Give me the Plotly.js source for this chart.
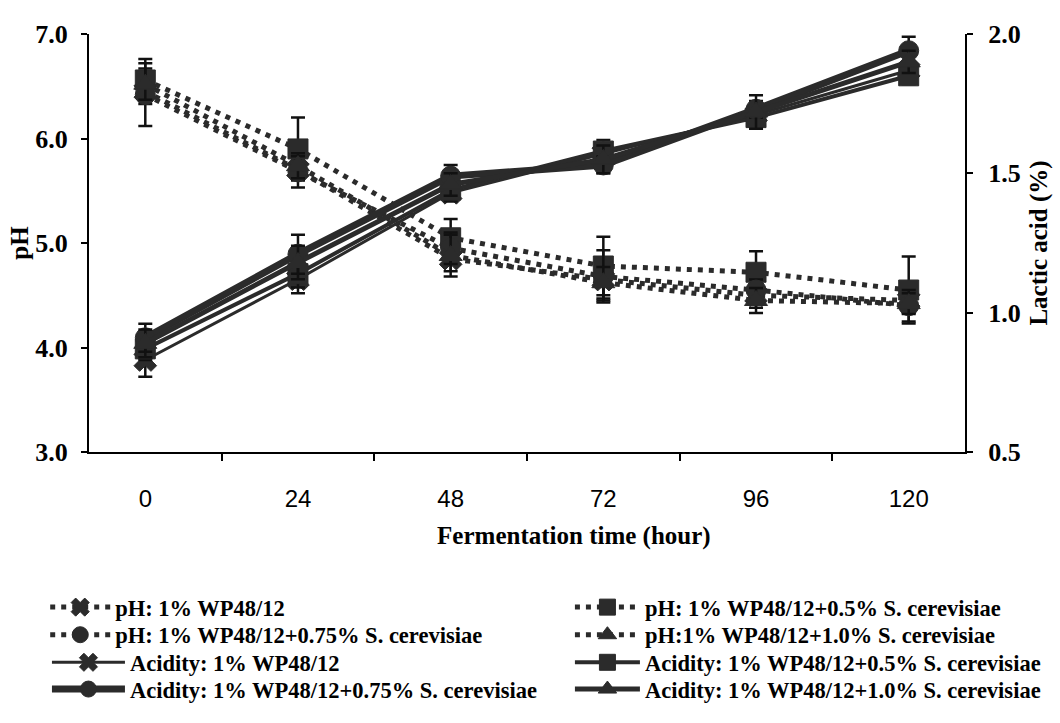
<!DOCTYPE html>
<html>
<head>
<meta charset="utf-8">
<script src="https://cdn.plot.ly/plotly-3.0.1.min.js"></script>
<style>html,body{margin:0;padding:0;background:#fff;}#chart{width:1060px;height:723px;}</style>
</head>
<body>
<div id="chart"></div>
<script>
// Categories (fermentation time, hour)
const hours = ["0", "24", "48", "72", "96", "120"];

// pH series (left axis)
const ph_wp = [6.45, 5.70, 4.85, 4.65, 4.50, 4.45];
const ph_wp_05 = [6.56, 5.90, 5.05, 4.78, 4.72, 4.55];
const ph_wp_075 = [6.42, 5.68, 4.95, 4.68, 4.55, 4.40];
const ph_wp_10 = [6.52, 5.74, 4.88, 4.62, 4.45, 4.42];
const ph_wp_err = [0.12, 0.10, 0.12, 0.20, 0.12, 0.12];
const ph_wp_05_err = [0.20, 0.30, 0.18, 0.28, 0.20, 0.32];
const ph_wp_075_err = [0.30, 0.15, 0.15, 0.25, 0.10, 0.15];
const ph_wp_10_err = [0.15, 0.12, 0.20, 0.15, 0.12, 0.10];

// Acidity series, lactic acid % (right axis)
const ac_wp = [0.83, 1.12, 1.43, 1.57, 1.71, 1.87];
const ac_wp_05 = [0.87, 1.14, 1.44, 1.58, 1.70, 1.85];
const ac_wp_075 = [0.91, 1.21, 1.49, 1.53, 1.73, 1.94];
const ac_wp_10 = [0.89, 1.18, 1.46, 1.55, 1.72, 1.90];
const ac_wp_err = [0.06, 0.05, 0.03, 0.03, 0.03, 0.03];
const ac_wp_05_err = [0.04, 0.05, 0.04, 0.04, 0.04, 0.03];
const ac_wp_075_err = [0.05, 0.07, 0.04, 0.03, 0.03, 0.05];
const ac_wp_10_err = [0.05, 0.06, 0.04, 0.05, 0.06, 0.04];

const names = [
  "pH: 1% WP48/12",
  "pH: 1% WP48/12+0.5% S. cerevisiae",
  "pH: 1% WP48/12+0.75% S. cerevisiae",
  "pH:1% WP48/12+1.0% S. cerevisiae",
  "Acidity: 1% WP48/12",
  "Acidity: 1% WP48/12+0.5% S. cerevisiae",
  "Acidity: 1% WP48/12+0.75% S. cerevisiae",
  "Acidity: 1% WP48/12+1.0% S. cerevisiae"
];

const ink = "#2b2b2b";
function phTrace(name, y, err, sym, leg) {
  return {
    type: "scatter", mode: "lines+markers", name: name, legend: leg,
    x: hours, y: y, yaxis: "y",
    line: {color: ink, width: 5, dash: "5px,6px"},
    marker: {symbol: sym, size: 20, color: ink, line: {color: ink, width: 1}},
    error_y: {type: "data", array: err, visible: true, color: "#111", thickness: 2.5, width: 7}
  };
}
function acTrace(name, y, err, sym, w, leg) {
  return {
    type: "scatter", mode: "lines+markers", name: name, legend: leg,
    x: hours, y: y, yaxis: "y2",
    line: {color: ink, width: w},
    marker: {symbol: sym, size: 20, color: ink, line: {color: ink, width: 1}},
    error_y: {type: "data", array: err, visible: true, color: "#111", thickness: 2.5, width: 7}
  };
}

const data = [
  phTrace(names[0], ph_wp, ph_wp_err, "x", "legend"),
  phTrace(names[1], ph_wp_05, ph_wp_05_err, "square", "legend2"),
  phTrace(names[2], ph_wp_075, ph_wp_075_err, "circle", "legend3"),
  phTrace(names[3], ph_wp_10, ph_wp_10_err, "triangle-up", "legend4"),
  acTrace(names[4], ac_wp, ac_wp_err, "x", 3, "legend5"),
  acTrace(names[5], ac_wp_05, ac_wp_05_err, "square", 4, "legend6"),
  acTrace(names[6], ac_wp_075, ac_wp_075_err, "circle", 7, "legend7"),
  acTrace(names[7], ac_wp_10, ac_wp_10_err, "triangle-up", 5, "legend8")
];

const serif = "Liberation Serif, Times New Roman, serif";
const tickBold = {family: serif, size: 26, color: "#000", weight: 700};
const titleBold = {family: serif, size: 25, color: "#000", weight: 700};
const legFont = {family: serif, size: 22.5, color: "#000", weight: 700};

function leg(x, y, iw) {
  return {
    orientation: "v", x: x, xanchor: "left", y: y, yanchor: "middle",
    itemwidth: iw, font: legFont, bgcolor: "rgba(0,0,0,0)", borderwidth: 0,
    tracegroupgap: 0
  };
}
// paper coords: plot area x 89..965 (876 px), y 34..456 (422 px)
const colL_ph = -0.050, colL_ac = -0.048, colR = 0.549;
const rows = [-0.372, -0.438, -0.504, -0.568];

// the x title sits right of the axis centre in the reference; pad its left side
const xTitle = "\u200B" + "\u00A0".repeat(15) + "Fermentation time (hour)";

const layout = {
  width: 1060, height: 723,
  paper_bgcolor: "#fff", plot_bgcolor: "rgba(0,0,0,0)",
  margin: {l: 89, r: 95, t: 34, b: 267},
  showlegend: true,
  xaxis: {
    type: "category",
    tickson: "boundaries",
    ticks: "outside", ticklen: 7, tickwidth: 2, tickcolor: "#000",
    showline: true, linecolor: "#000", linewidth: 2,
    showgrid: false, zeroline: false,
    ticklabelstandoff: 24,
    tickfont: {family: "Liberation Sans, Arial, sans-serif", size: 24, color: "#000"},
    title: {text: xTitle, font: titleBold, standoff: 16}
  },
  yaxis: {
    range: [3, 7], dtick: 1, tickformat: ".1f",
    ticks: "outside", ticklen: 6, tickwidth: 2, tickcolor: "#000",
    showline: true, linecolor: "#000", linewidth: 2,
    showgrid: false, zeroline: false,
    ticklabelstandoff: 8,
    tickfont: tickBold,
    title: {text: "pH", font: titleBold, standoff: 0}
  },
  yaxis2: {
    range: [0.5, 2.0], dtick: 0.5, tickformat: ".1f",
    overlaying: "y", side: "right",
    ticks: "outside", ticklen: 6, tickwidth: 2, tickcolor: "#000",
    showline: true, linecolor: "#000", linewidth: 2,
    showgrid: false, zeroline: false,
    ticklabelstandoff: 10,
    tickfont: tickBold,
    title: {text: "Lactic acid (%)", font: titleBold, standoff: 10}
  },
  legend: leg(colL_ph, rows[0], 60),
  legend2: leg(colR, rows[0], 65),
  legend3: leg(colL_ph, rows[1], 60),
  legend4: leg(colR, rows[1], 65),
  legend5: leg(colL_ac, rows[2], 73),
  legend6: leg(colR, rows[2], 65),
  legend7: leg(colL_ac, rows[3], 73),
  legend8: leg(colR, rows[3], 65)
};

Plotly.newPlot("chart", data, layout, {displayModeBar: false, staticPlot: true});
</script>
</body>
</html>
